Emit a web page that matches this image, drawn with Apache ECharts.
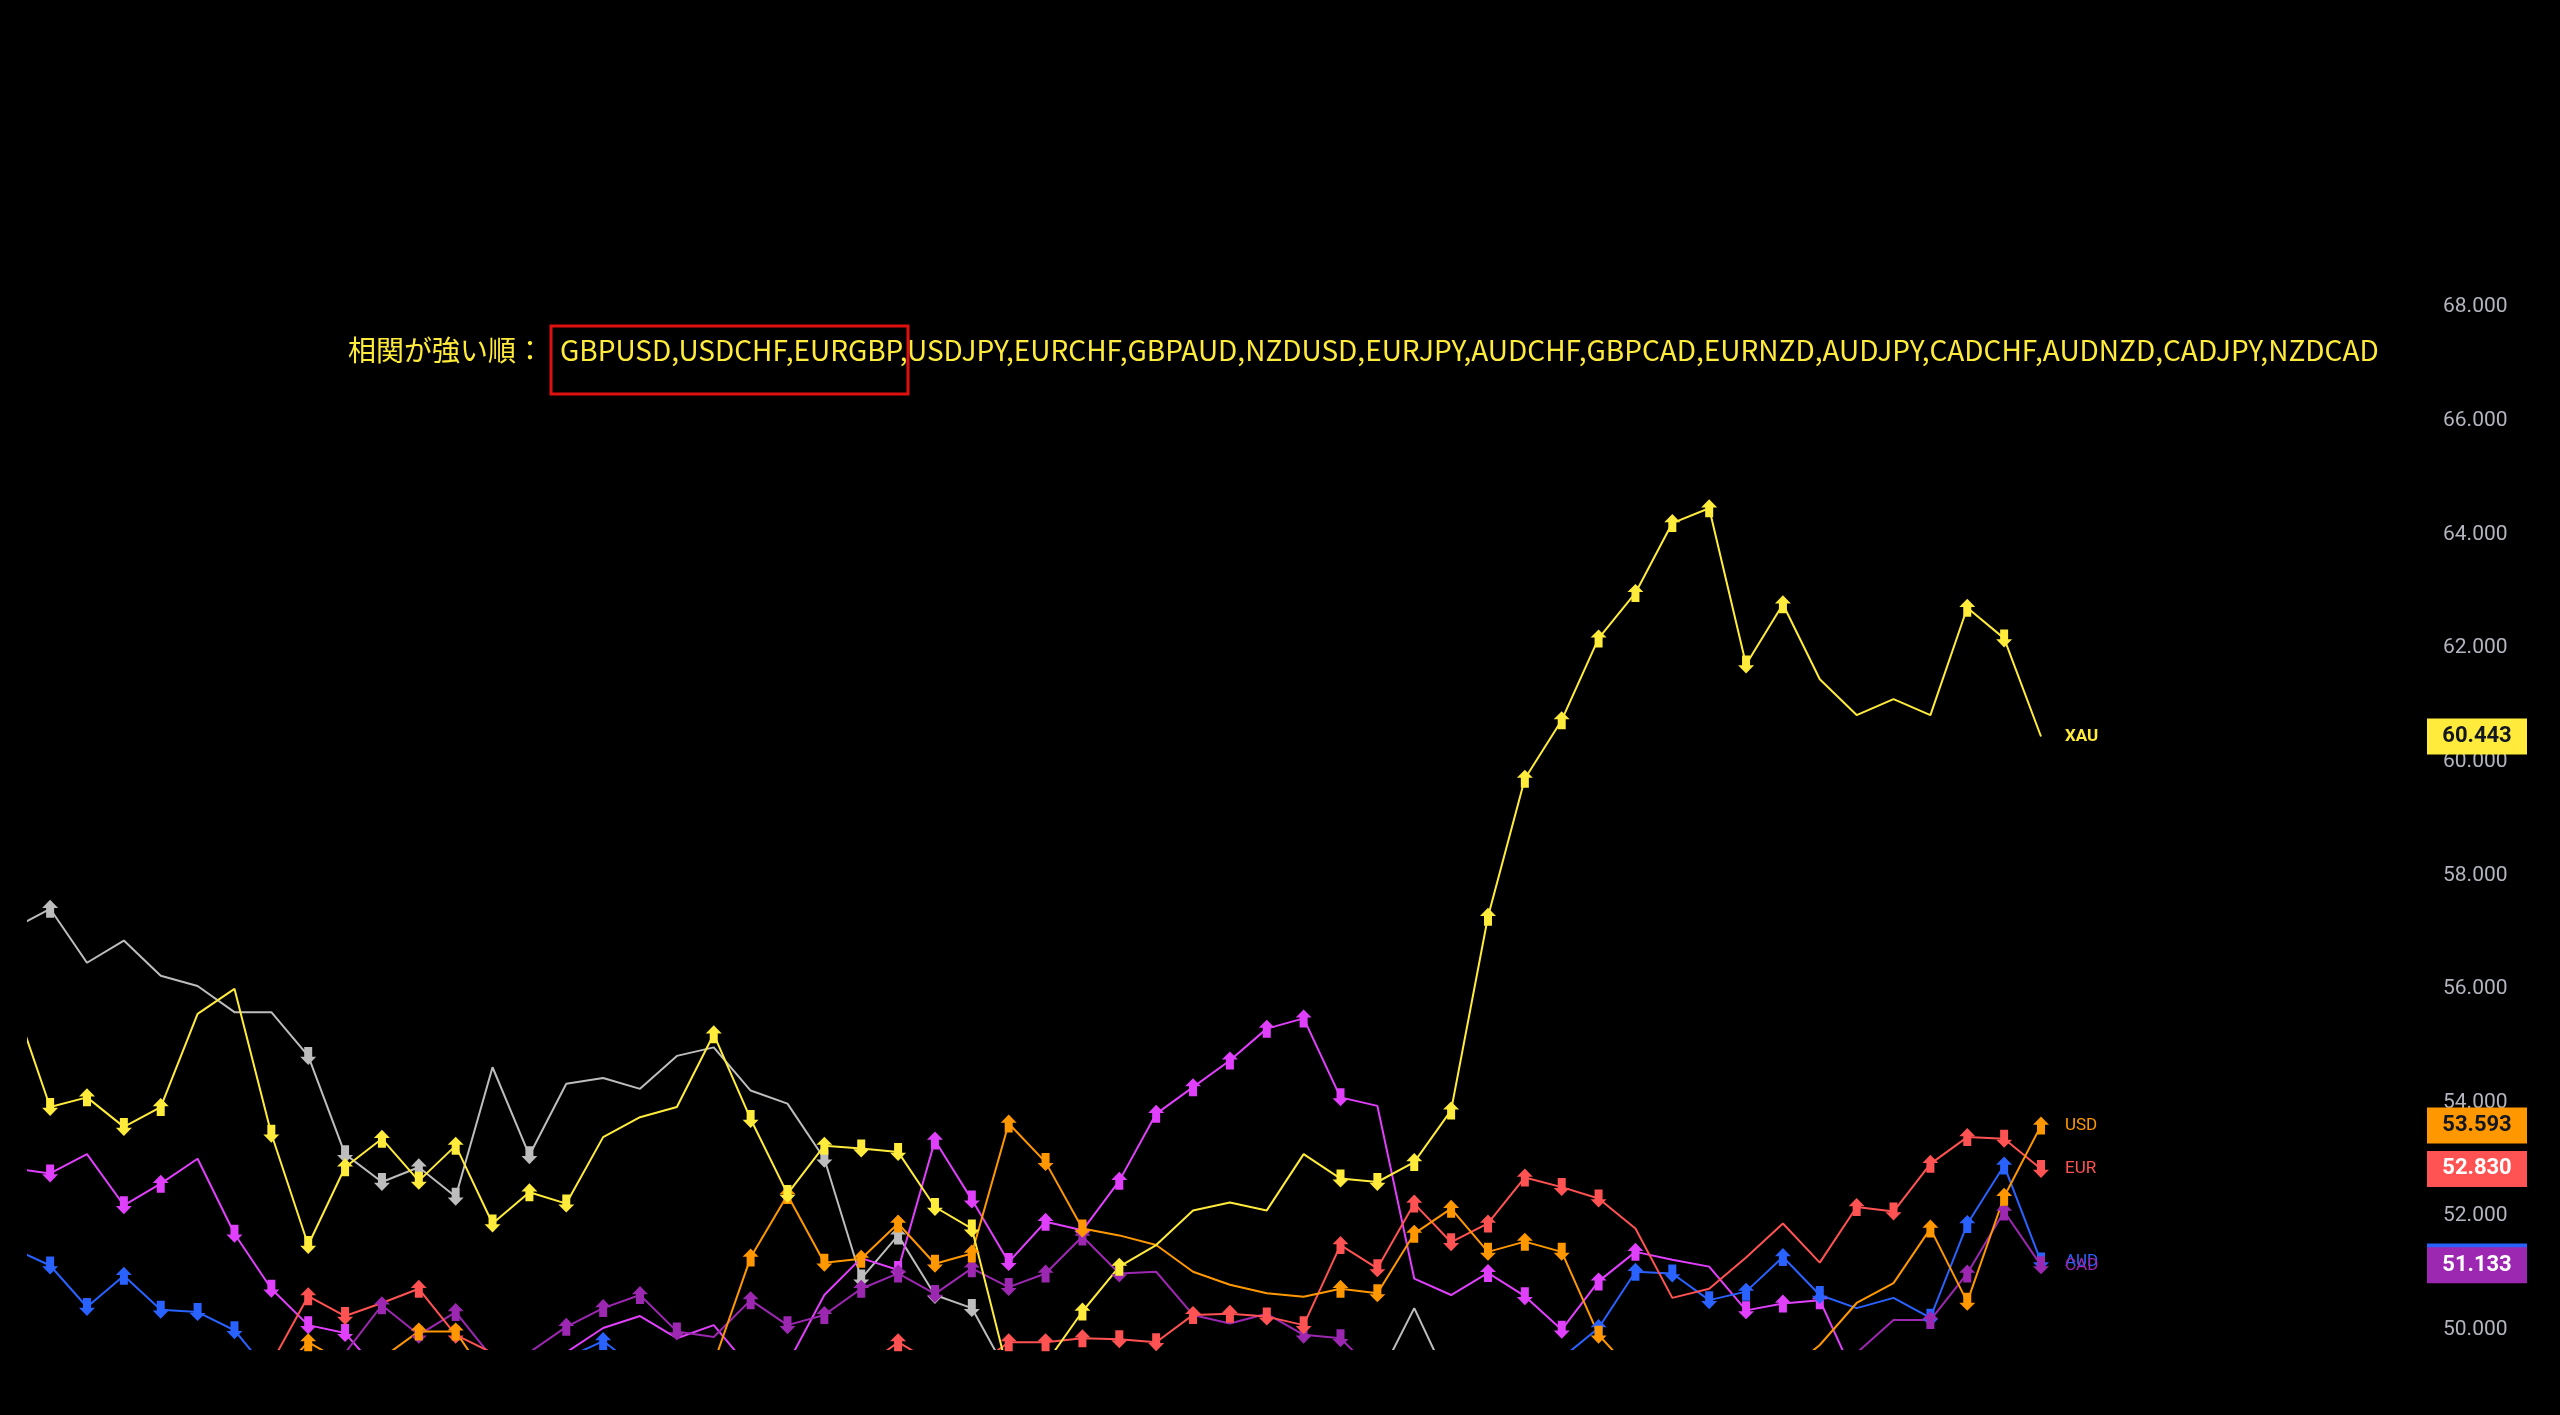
<!DOCTYPE html>
<html>
<head>
<meta charset="utf-8">
<script src="https://cdn.jsdelivr.net/npm/echarts@6/dist/echarts.min.js"></script>
<style>
  html, body { margin: 0; padding: 0; background: #000; }
  #main { width: 2560px; height: 1415px; }
</style>
</head>
<body>
<div id="main"></div>
<script>
// first value of every series is the point just left of the visible window (index -1)
const xau = [55.82,
  53.92, 54.09, 53.57, 53.92, 55.56, 56.0, 53.45, 51.49, 52.86, 53.36,
  52.62, 53.24, 51.87, 52.42, 52.22, 53.39, 53.74, 53.92, 55.20, 53.71,
  52.39, 53.24, 53.19, 53.13, 52.16, 51.78, 49.2, 49.4, 50.32, 51.11,
  51.49, 52.10, 52.24, 52.10, 53.09, 52.66, 52.60, 52.95, 53.86, 57.27,
  59.70, 60.73, 62.17, 62.97, 64.20, 64.46, 61.71, 62.77, 61.45, 60.82,
  61.10, 60.82, 62.71, 62.17, 60.443];
const gbp = [57.06,
  57.41, 56.46, 56.85, 56.23, 56.05, 55.59, 55.59, 54.82, 53.09, 52.60,
  52.86, 52.34, 54.62, 53.07, 54.33, 54.43, 54.24, 54.82, 54.97, 54.21,
  53.98, 53.01, 50.90, 51.66, 50.61, 50.38, 49.2, 49.0, 48.9, 49.0,
  49.1, 49.0, 48.9, 49.0, 49.1, 49.0, 49.1, 50.38, 49.0, 48.9,
  49.0, 49.1, 49.0, 48.9, 49.0, 49.1, 49.0, 48.9, 49.0, 49.1,
  49.0, 48.9, 49.0, 49.1, 49.0];
const nzd = [52.84,
  52.75, 53.09, 52.19, 52.57, 53.01, 51.69, 50.72, 50.08, 49.94, 49.2,
  49.1, 49.2, 49.1, 49.3, 49.6, 50.03, 50.24, 49.85, 50.08, 49.3,
  49.4, 50.61, 51.26, 51.05, 53.33, 52.29, 51.19, 51.90, 51.75, 52.62,
  53.80, 54.27, 54.74, 55.30, 55.48, 54.09, 53.94, 50.90, 50.61, 51.00,
  50.59, 50.00, 50.85, 51.37, 51.23, 51.11, 50.34, 50.46, 50.52, 49.1,
  49.0, 49.1, 49.0, 49.1, 49.0];
const aud = [51.43,
  51.13, 50.40, 50.95, 50.35, 50.31, 49.99, 49.2, 49.1, 49.2, 49.1,
  49.2, 49.1, 49.2, 49.3, 49.5, 49.8, 49.3, 49.1, 49.0, 49.1,
  49.0, 49.1, 49.0, 49.2, 49.1, 49.0, 49.1, 49.2, 49.0, 49.1,
  49.0, 49.2, 49.1, 49.0, 49.1, 49.2, 49.0, 49.1, 49.2, 49.1,
  49.3, 49.5, 50.03, 51.02, 50.99, 50.52, 50.67, 51.28, 50.61, 50.38,
  50.56, 50.21, 51.86, 52.89, 51.20];
const eur = [49.1,
  49.2, 49.1, 49.2, 49.1, 49.2, 49.2, 49.41, 50.59, 50.24, 50.47,
  50.72, 49.91, 49.59, 49.3, 49.2, 49.2, 49.1, 49.2, 49.3, 49.2,
  49.3, 49.2, 49.3, 49.78, 49.4, 49.3, 49.78, 49.78, 49.85, 49.83,
  49.78, 50.26, 50.28, 50.23, 50.08, 51.49, 51.08, 52.22, 51.54, 51.87,
  52.68, 52.51, 52.31, 51.78, 50.56, 50.72, 51.27, 51.87, 51.18, 52.16,
  52.08, 52.92, 53.39, 53.36, 52.83];
const usd = [49.1,
  49.1, 49.0, 49.1, 49.0, 49.1, 49.0, 49.1, 49.78, 49.41, 49.5,
  49.97, 49.97, 49.0, 49.1, 49.0, 49.1, 49.0, 49.2, 49.41, 51.27,
  52.37, 51.18, 51.25, 51.87, 51.16, 51.34, 53.63, 52.95, 51.78, 51.66,
  51.49, 51.02, 50.79, 50.64, 50.58, 50.72, 50.64, 51.69, 52.13, 51.37,
  51.55, 51.37, 49.91, 49.2, 49.0, 49.1, 49.0, 49.2, 49.73, 50.47,
  50.82, 51.78, 50.49, 52.34, 53.593];
const cad = [49.1,
  49.0, 49.1, 49.0, 49.1, 49.0, 49.1, 49.0, 49.1, 49.59, 50.43,
  49.91, 50.31, 49.5, 49.6, 50.05, 50.38, 50.61, 49.97, 49.87, 50.52,
  50.08, 50.26, 50.72, 50.99, 50.63, 51.08, 50.75, 50.99, 51.64, 50.99,
  51.02, 50.26, 50.11, 50.28, 49.91, 49.85, 49.2, 49.1, 49.0, 49.1,
  49.2, 49.0, 49.1, 49.2, 49.0, 49.1, 49.0, 49.2, 49.1, 49.59,
  50.17, 50.17, 50.99, 52.08, 51.133];

// which visible points carry an arrow marker (index 0..54)
const xauMarks = '1111001111111110001111111100110000011111111111110000110';
const gbpMarks = '1000000111110100000001111100000000000000000000000000000';
const nzdMarks = '1011011110000000000000011111111111110001111100111000000';
const audMarks = '1111110000000001000000000000000000000000001111111001111';
const eurMarks = '0000000110110000000000010011111111111111111000000111111';
const usdMarks = '0000000100110000000111111111100000011111111000000001111';
const cadMarks = '0000000001110011110111111111110000110000000000000001111';

const rankPrefix = '相関が強い順：';
const rankPairs = 'GBPUSD,USDCHF,EURGBP,USDJPY,EURCHF,GBPAUD,NZDUSD,EURJPY,AUDCHF,GBPCAD,EURNZD,AUDJPY,CADCHF,AUDNZD,CADJPY,NZDCAD';
const yTicks = [50, 52, 54, 56, 58, 60, 62, 64, 66, 68];

const ARROW = 'path://M5,0L10,5L7.5,5L7.5,11L2.5,11L2.5,5L0,5Z';

function buildData(vals, marks) {
  return vals.map((v, k) => {
    const i = k - 1;
    const show = i >= 0 && marks[i] === '1';
    return {
      value: [i, v],
      symbol: show ? ARROW : 'none',
      symbolRotate: k > 0 && v < vals[k - 1] ? 180 : 0
    };
  });
}

function makeSeries(name, label, vals, marks, color, badge, badgeText) {
  const s = {
    name: name,
    type: 'line',
    data: buildData(vals, marks),
    showAllSymbol: true,
    symbolSize: [16, 18],
    color: color,
    lineStyle: { width: 2, color: color },
    itemStyle: { color: color },
    emphasis: { disabled: true },
    animation: false
  };
  if (label) {
    s.endLabel = {
      show: true,
      formatter: label,
      color: color,
      fontSize: 17,
      fontWeight: label === 'XAU' ? 'bold' : 'normal',
      fontFamily: 'Roboto',
      distance: 24
    };
  }
  if (badge) {
    const last = vals[vals.length - 1];
    s.markPoint = {
      silent: true,
      animation: false,
      data: [{
        coord: [54, last],
        value: last.toFixed(3),
        symbol: 'rect',
        symbolSize: [100, 36],
        symbolOffset: [436, 0],
        itemStyle: { color: color },
        label: {
          show: badgeText !== false,
          color: badge,
          fontSize: 22,
          fontWeight: 'bold',
          fontFamily: 'Roboto'
        }
      }]
    };
  }
  return s;
}

const chart = echarts.init(document.getElementById('main'));

const titleStyle = { fill: '#ffeb3b', fontSize: 28, fontFamily: 'Noto Sans CJK JP' };

chart.setOption({
  backgroundColor: '#000000',
  animation: false,
  grid: { left: 28, right: 519, top: 80, bottom: 66 },
  xAxis: {
    type: 'value',
    min: -0.6,
    max: 54,
    show: false
  },
  yAxis: {
    type: 'value',
    position: 'right',
    min: 49.66,
    max: 72,
    splitLine: { show: false },
    axisLine: { show: false },
    axisTick: { show: false },
    axisLabel: {
      customValues: yTicks,
      margin: 402,
      color: '#b2b5be',
      fontSize: 21,
      fontFamily: 'Roboto',
      formatter: v => v.toFixed(3)
    }
  },
  graphic: [
    {
      type: 'text',
      left: 348,
      top: 336,
      style: Object.assign({ text: rankPrefix }, titleStyle)
    },
    {
      type: 'text',
      left: 560,
      top: 336,
      style: Object.assign({ text: rankPairs }, titleStyle)
    },
    {
      type: 'rect',
      shape: { x: 551, y: 326, width: 357, height: 68 },
      style: { fill: 'none', stroke: '#e01010', lineWidth: 3 }
    }
  ],
  series: [
    makeSeries('GBP', null, gbp, gbpMarks, '#bdbdbd', null),
    makeSeries('NZD', null, nzd, nzdMarks, '#e040fb', null),
    makeSeries('AUD', 'AUD', aud, audMarks, '#2962ff', '#ffffff', false),
    makeSeries('CAD', 'CAD', cad, cadMarks, '#9c27b0', '#ffffff'),
    makeSeries('EUR', 'EUR', eur, eurMarks, '#ff5252', '#ffffff'),
    makeSeries('USD', 'USD', usd, usdMarks, '#ff9800', '#131722'),
    makeSeries('XAU', 'XAU', xau, xauMarks, '#ffeb3b', '#131722')
  ]
});
</script>
</body>
</html>
